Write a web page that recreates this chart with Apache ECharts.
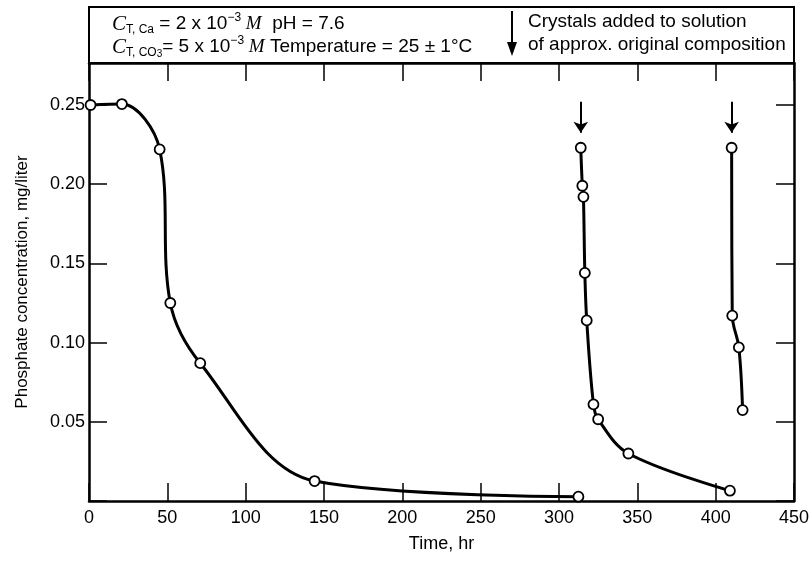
<!DOCTYPE html>
<html><head><meta charset="utf-8">
<script src="https://cdn.jsdelivr.net/npm/echarts@6/dist/echarts.min.js"></script>
<style>html,body{margin:0;padding:0;background:#fff}#c{width:812px;height:562px}</style>
</head><body><div id="c"></div>
<script>
// ---- data ----
const xTickValues = [0, 50, 100, 150, 200, 250, 300, 350, 400, 450];
const yTickLabels = ['0.05', '0.10', '0.15', '0.20', '0.25'];
const initialRunTime = [1, 21, 45.1, 51.9, 71.0, 144, 312.4];
const initialRunConc = [0.250, 0.2506, 0.222, 0.125, 0.087, 0.0126, 0.0027];
const secondRunTime = [313.9, 314.9, 315.6, 316.5, 317.7, 322.0, 325.0, 344.3, 409.1];
const secondRunConc = [0.223, 0.199, 0.192, 0.144, 0.114, 0.061, 0.0516, 0.030, 0.0065];
const thirdRunTime = [410.2, 410.6, 414.8, 417.2];
const thirdRunConc = [0.223, 0.117, 0.097, 0.0574];
const crystalAdditionTimes = [313.9, 410.2];
const arrowTopConc = 0.252, arrowTipConc = 0.2325;

const FONT = '"Liberation Sans", Arial, sans-serif';
const SERIF = '"Liberation Serif", "Times New Roman", serif';
const xMin = xTickValues[0], xMax = xTickValues[xTickValues.length - 1];
const yStep = 0.05, yMax = 0.2765;

function pairs(t, c) { return t.map((v, i) => [v, c[i]]); }
function runSeries(name, t, c, extra) {
  return Object.assign({
    type: 'line', name, data: pairs(t, c), smooth: 0.35,
    symbol: 'circle', symbolSize: 10, showAllSymbol: true,
    lineStyle: { color: '#000', width: 3 },
    itemStyle: { color: '#fff', borderColor: '#000', borderWidth: 1.8 },
    z: 3, animation: false
  }, extra || {});
}
const yLabelFmt = v => {
  const k = v / yStep;
  if (v <= 0 || Math.abs(k - Math.round(k)) > 1e-6) return '';
  const s = v.toFixed(2);
  return yTickLabels.indexOf(s) >= 0 ? s : '';
};

const axisLine = { show: true, onZero: false, lineStyle: { color: '#000', width: 2.5 } };
const tick = { show: true, inside: true, length: 18, lineStyle: { color: '#000', width: 1.5 } };

const chart = echarts.init(document.getElementById('c'), null, { renderer: 'canvas' });
chart.setOption({
  animation: false,
  backgroundColor: '#fff',
  grid: { left: 89, right: 18, top: 63, bottom: 61, show: false },
  xAxis: [
    { type: 'value', min: xMin, max: xMax, interval: 50, position: 'bottom',
      axisLine, axisTick: tick, splitLine: { show: false },
      axisLabel: { color: '#000', fontSize: 18, fontFamily: FONT, margin: 8 },
      name: 'Time, hr', nameLocation: 'middle', nameGap: 34,
      nameTextStyle: { color: '#000', fontSize: 18, fontFamily: FONT } },
    { type: 'value', min: xMin, max: xMax, interval: 50, position: 'top',
      axisLine, axisTick: tick, splitLine: { show: false }, axisLabel: { show: false } }
  ],
  yAxis: [
    { type: 'value', min: 0, max: yMax, interval: yStep, position: 'left',
      axisLine, axisTick: tick, splitLine: { show: false },
      axisLabel: { color: '#000', fontSize: 18, fontFamily: FONT, margin: 4, formatter: yLabelFmt },
      name: 'Phosphate concentration, mg/liter', nameLocation: 'middle', nameGap: 58,
      nameTextStyle: { color: '#000', fontSize: 17, fontFamily: FONT } },
    { type: 'value', min: 0, max: yMax, interval: yStep, position: 'right',
      axisLine, axisTick: tick, splitLine: { show: false }, axisLabel: { show: false } }
  ],
  series: [
    runSeries('initial', initialRunTime, initialRunConc),
    runSeries('second', secondRunTime, secondRunConc, {
      markLine: {
        silent: true, symbol: ['none', 'arrow'], symbolSize: 11,
        label: { show: false }, animation: false,
        lineStyle: { color: '#000', width: 2, type: 'solid' },
        data: crystalAdditionTimes.map(t => [{ coord: [t, arrowTopConc] }, { coord: [t, arrowTipConc] }])
      }
    }),
    runSeries('third', thirdRunTime, thirdRunConc)
  ],
  graphic: [
    { type: 'rect', shape: { x: 89, y: 7, width: 705, height: 56 },
      style: { fill: 'none', stroke: '#000', lineWidth: 2 }, z: 10 },
    { type: 'text', left: 112, top: 12, z: 10,
      style: {
        text: '{ci|C}{sb|T, Ca}{t| = 2 x 10}{sp|−3}{mi| M}{t|  pH = 7.6}',
        rich: richStyles()
      } },
    { type: 'text', left: 112, top: 35, z: 10,
      style: {
        text: '{ci|C}{sb|T, CO}{sb2|3}{t|= 5 x 10}{sp|−3}{mi| M}{t| Temperature = 25 ± 1°C}',
        rich: richStyles()
      } },
    { type: 'line', shape: { x1: 512, y1: 11, x2: 512, y2: 46 }, style: { stroke: '#000', lineWidth: 2 }, z: 10 },
    { type: 'polygon', shape: { points: [[507, 42], [517, 42], [512, 56]] }, style: { fill: '#000' }, z: 10 },
    { type: 'text', left: 528, top: 12, z: 10,
      style: { text: 'Crystals added to solution', font: '19px ' + FONT, fill: '#000' } },
    { type: 'text', left: 528, top: 35, z: 10,
      style: { text: 'of approx. original composition', font: '19px ' + FONT, fill: '#000' } }
  ]
});
function richStyles() {
  return {
    t: { fontSize: 19, fontFamily: FONT, color: '#000', lineHeight: 24 },
    ci: { fontSize: 21, fontFamily: SERIF, fontStyle: 'italic', color: '#000', lineHeight: 24 },
    mi: { fontSize: 19, fontFamily: SERIF, fontStyle: 'italic', color: '#000', lineHeight: 24 },
    sb: { fontSize: 12, fontFamily: FONT, color: '#000', lineHeight: 13, verticalAlign: 'bottom' },
    sb2: { fontSize: 10, fontFamily: FONT, color: '#000', lineHeight: 9, verticalAlign: 'bottom' },
    sp: { fontSize: 12, fontFamily: FONT, color: '#000', lineHeight: 17, verticalAlign: 'top' }
  };
}
</script>
</body></html>
